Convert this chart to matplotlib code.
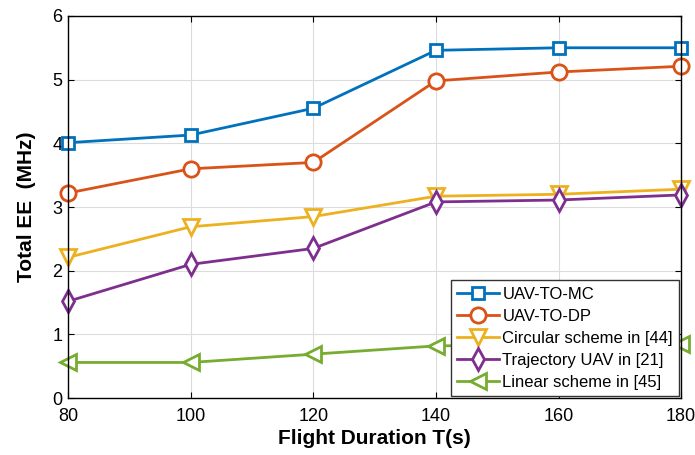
import matplotlib.pyplot as plt

plt.rcParams['font.family'] = ['Liberation Sans', 'DejaVu Sans']

# flight duration T(s)
durations = [80, 100, 120, 140, 160, 180]

# total EE (MHz) per scheme
ee_mc = [4.01, 4.13, 4.55, 5.46, 5.50, 5.50]
ee_dp = [3.22, 3.60, 3.70, 4.98, 5.12, 5.21]
ee_circular = [2.21, 2.69, 2.85, 3.17, 3.20, 3.28]
ee_trajectory = [1.52, 2.10, 2.35, 3.08, 3.11, 3.19]
ee_linear = [0.56, 0.56, 0.69, 0.82, 0.84, 0.85]

labels = ['UAV-TO-MC', 'UAV-TO-DP', 'Circular scheme in [44]',
          'Trajectory UAV in [21]', 'Linear scheme in [45]']
series = [ee_mc, ee_dp, ee_circular, ee_trajectory, ee_linear]
colors = ['#0072BD', '#D95319', '#EDB120', '#7E2F8E', '#77AC30']
markers = ['s', 'o', 'v', 'd', '<']
sizes = [9, 11, 11, 11, 11]

fig = plt.figure(figsize=(6.95, 4.55), dpi=100)
ax = fig.add_axes([0.098, 0.125, 0.882, 0.84])

for vals, lab, c, m, s in zip(series, labels, colors, markers, sizes):
    ax.plot(durations, vals, color=c, marker=m, markersize=s, linewidth=2,
            markerfacecolor='white', markeredgewidth=2, label=lab, clip_on=False)

ax.set_xlim(80, 180)
ax.set_ylim(0, 6)
ax.set_xticks(durations)
ax.set_yticks(range(7))
ax.grid(True, color='#dcdcdc', linewidth=0.8)
ax.set_axisbelow(True)
ax.tick_params(direction='in', top=True, right=True, labelsize=13, length=4)
ax.tick_params(axis='x', pad=7)
ax.tick_params(axis='y', pad=4)
for sp in ax.spines.values():
    sp.set_linewidth(1.0)

ax.set_xlabel('Flight Duration T(s)', fontsize=15, fontweight='bold', labelpad=3)
ax.set_ylabel('Total EE  (MHz)', fontsize=15, fontweight='bold', labelpad=12)

leg = ax.legend(loc='lower right', fontsize=12, fancybox=False, framealpha=1,
                edgecolor='#333333', borderaxespad=0.1, handlelength=2.5,
                handletextpad=0.2, labelspacing=0.42, borderpad=0.4)
leg.get_frame().set_linewidth(1.0)
leg.set_zorder(5)

fig.savefig('out.png', dpi=100)
